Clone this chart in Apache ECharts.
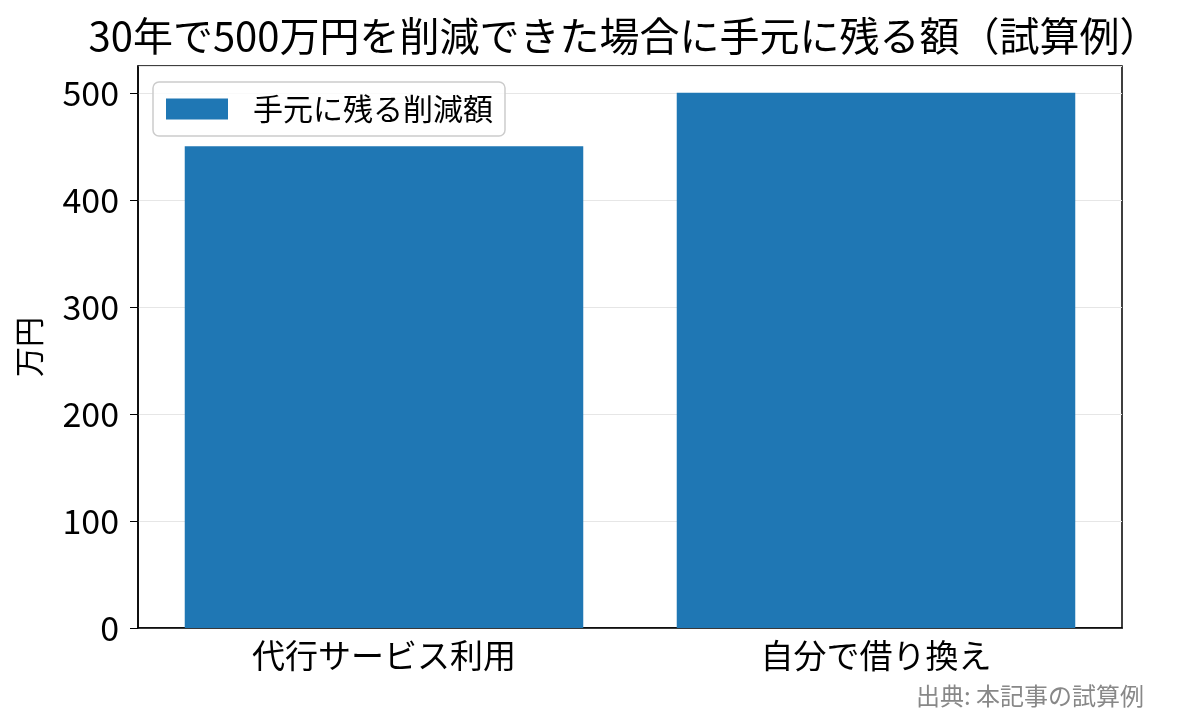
<!DOCTYPE html>
<html><head><meta charset="utf-8">
<script src="https://cdn.jsdelivr.net/npm/echarts@6/dist/echarts.min.js"></script>
<style>html,body{margin:0;padding:0;background:#fff}#c{width:1189px;height:725px}</style>
</head><body><div id="c"></div>
<script>
const categories = ['代行サービス利用', '自分で借り換え'];
const values = [450, 500];
const seriesName = '手元に残る削減額';
const titleText = '30年で500万円を削減できた場合に手元に残る額（試算例）';
const yName = '万円';
const footnote = '出典: 本記事の試算例';

const F = '"Noto Sans CJK JP", sans-serif';
const chart = echarts.init(document.getElementById('c'));
chart.setOption({
  animation: false,
  textStyle: { fontFamily: F },
  title: [{
    text: titleText, left: 619, top: 11, textAlign: 'center',
    textStyle: { fontFamily: F, fontSize: 40, fontWeight: 'normal', color: '#000' }
  }, {
    text: footnote, right: 40, top: 679,
    textStyle: { fontFamily: F, fontSize: 24, fontWeight: 'normal', color: '#888' }
  }],
  legend: {
    left: 153, top: 82, padding: [12, 12, 12, 13],
    itemWidth: 62, itemHeight: 21, itemGap: 10,
    borderColor: '#ccc', borderWidth: 1.5, borderRadius: 6,
    backgroundColor: 'rgba(255,255,255,0.8)',
    textStyle: { fontFamily: F, fontSize: 30, color: '#000', padding: [0, 0, 0, 20] },
    data: [{ name: seriesName, icon: 'rect' }]
  },
  grid: { left: 138, right: 67, top: 66, bottom: 97, show: true, borderColor: '#000', borderWidth: 1.5, containLabel: false },
  xAxis: {
    type: 'category', data: categories,
    axisLine: { lineStyle: { color: '#000', width: 1.5 } },
    axisTick: { alignWithLabel: true, length: 8, lineStyle: { color: '#000' } },
    axisLabel: { fontFamily: F, fontSize: 33, color: '#000', margin: 11 },
    splitLine: { show: false }
  },
  yAxis: {
    type: 'value', min: 0, max: 525, interval: 100,
    name: yName, nameLocation: 'middle', nameGap: 94, nameRotate: 90,
    nameTextStyle: { fontFamily: F, fontSize: 30, color: '#000' },
    axisLine: { show: true, lineStyle: { color: '#000', width: 1.5 } },
    axisTick: { show: true, length: 8, lineStyle: { color: '#000' } },
    axisLabel: { fontFamily: F, fontSize: 34, color: '#000', margin: 19, showMaxLabel: false },
    splitLine: { show: true, lineStyle: { color: '#e6e6e6', width: 1.2 } }
  },
  series: [{
    name: seriesName, type: 'bar', data: values, barWidth: '81%',
    itemStyle: { color: '#1f77b4' }
  }]
});
</script></body></html>
